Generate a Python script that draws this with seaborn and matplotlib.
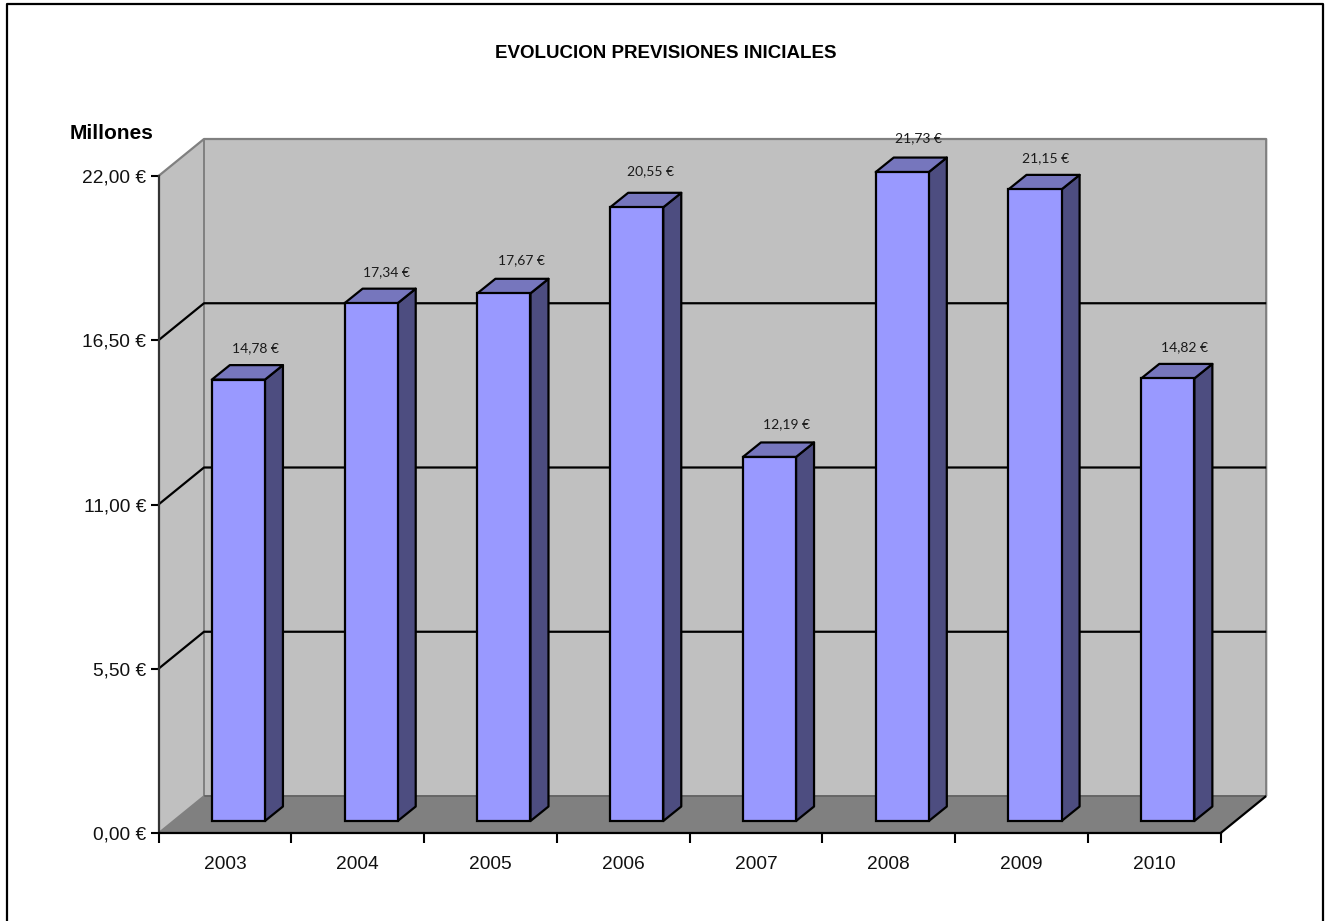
import matplotlib
matplotlib.use('Agg')
import matplotlib.pyplot as plt
from matplotlib.patches import Polygon
from matplotlib.transforms import Affine2D
import seaborn as sns
import pandas as pd

# Datos
anios = ['2003', '2004', '2005', '2006', '2007', '2008', '2009', '2010']
previsiones = [14.78, 17.34, 17.67, 20.55, 12.19, 21.73, 21.15, 14.82]
etiquetas = ['14,78 €', '17,34 €', '17,67 €', '20,55 €', '12,19 €', '21,73 €', '21,15 €', '14,82 €']
ticks_y = [0, 5.5, 11, 16.5, 22]
ticks_y_txt = ['0,00 €', '5,50 €', '11,00 €', '16,50 €', '22,00 €']

W, H = 1329, 921
LEFT, RIGHT, BOTTOM, TOP = 158.5, 1220.7, 833.0, 176.0
PX = (RIGHT - LEFT) / 8     # px por categoria
PY = (BOTTOM - TOP) / 22    # px por unidad

sns.set_theme(style='white')
plt.rcParams['font.family'] = ['Liberation Sans', 'DejaVu Sans']

df = pd.DataFrame({'anio': anios, 'valor': previsiones})

fig = plt.figure(figsize=(W / 100, H / 100), dpi=100, facecolor='white')
ax = fig.add_axes([LEFT / W, 1 - BOTTOM / H, (RIGHT - LEFT) / W, (BOTTOM - TOP) / H])
ax.set_facecolor('none')

sns.barplot(data=df, x='anio', y='valor', color='#9999ff', saturation=1, width=0.4,
            edgecolor='black', linewidth=1.6, ax=ax, zorder=5)
ax.set_xlim(-0.5, 7.5)
ax.set_ylim(0, 22)
barras = list(ax.patches)

# profundidad de las paredes y de las barras, en unidades de datos
wx, wy = 45.5 / PX, 37 / PY
ox, oy = 13.5 / PX, 12.0 / PY
bx, by = 18 / PX, 14.5 / PY


def poly(pts, fc, ec='none', lw=0, z=1):
    ax.add_patch(Polygon(pts, closed=True, facecolor=fc, edgecolor=ec, linewidth=lw,
                         zorder=z, clip_on=False, joinstyle='round'))


def line(xs, ys, color, lw=1.5, z=2):
    ax.plot(xs, ys, color=color, lw=lw, zorder=z, clip_on=False, solid_capstyle='butt')


x0, x1 = -0.5, 7.5
# paredes y suelo
poly([(x0, 0), (x0 + wx, wy), (x0 + wx, 22 + wy), (x0, 22)], '#c0c0c0')
poly([(x0 + wx, wy), (x1 + wx, wy), (x1 + wx, 22 + wy), (x0 + wx, 22 + wy)], '#c0c0c0')
poly([(x0, 0), (x1, 0), (x1 + wx, wy), (x0 + wx, wy)], '#808080')

line([x0, x0 + wx, x1 + wx, x1 + wx], [22, 22 + wy, 22 + wy, wy], '#808080', 1.6)
line([x0 + wx, x0 + wx], [wy, 22 + wy], '#808080', 1.4)
line([x0 + wx, x1 + wx], [wy, wy], '#666666', 1.4)
line([x0, x0 + wx], [0, wy], '#808080', 1.2)
line([x1, x1 + wx], [0, wy], 'black', 1.6, 3)

# lineas de division
for t in ticks_y[1:-1]:
    line([x0, x0 + wx, x1 + wx], [t, t + wy, t + wy], 'black', 1.6)

# barras con caras de profundidad
desplaza = Affine2D().translate(13.5, 12.0)
etq_x = [17.5, 15, 17, 14, 17, 16, 11, 17]
etq_y = [31, 31, 33, 36, 33, 34, 31, 31]
for i, bar in enumerate(barras):
    bar.set_clip_on(False)
    bar.set_transform(ax.transData + desplaza)
    xa = bar.get_x() + ox
    xb = xa + bar.get_width()
    v0 = oy
    v1 = bar.get_height() + oy
    poly([(xb, v0), (xb + bx, v0 + by), (xb + bx, v1 + by), (xb, v1)], '#4d4d80', 'black', 1.6, 4)
    poly([(xa, v1), (xb, v1), (xb + bx, v1 + by), (xa + bx, v1 + by)], '#7676bd', 'black', 1.6, 4)
    ax.annotate(etiquetas[i], xy=((xa + xb) / 2, v1), xytext=(etq_x[i], etq_y[i]), textcoords='offset pixels',
                ha='center', va='center', fontsize=10, family=['Lato', 'DejaVu Sans'],
                color='#1a1a1a', annotation_clip=False, zorder=6)

# ejes
for lado in ['top', 'right']:
    ax.spines[lado].set_visible(False)
for lado in ['left', 'bottom']:
    ax.spines[lado].set_color('black')
    ax.spines[lado].set_linewidth(1.6)
    ax.spines[lado].set_zorder(6)
ax.spines['left'].set_color('#333333')

ax.set_yticks(ticks_y)
ax.set_yticklabels(ticks_y_txt, fontsize=13.8, color='#111111')
ax.set_xticks([i - 0.5 for i in range(9)], minor=True)
ax.tick_params(axis='x', which='major', length=0, pad=16.5, labelsize=13.8, labelcolor='#111111')
ax.tick_params(axis='x', which='minor', length=7.5, width=1.5, color='black', bottom=True)
ax.tick_params(axis='y', length=6, width=1.5, color='black', pad=3, left=True)
ax.set_xlabel('')
ax.set_ylabel('')

fig.text(665.5 / W, 1 - 53 / H, 'EVOLUCION PREVISIONES INICIALES', ha='center', va='center',
         fontsize=13.5, fontweight='bold', color='black')
fig.text(111.5 / W, 1 - 133 / H, 'Millones', ha='center', va='center',
         fontsize=15, fontweight='bold', color='black')

# marco exterior (sin borde inferior visible)
fig.add_artist(plt.Line2D([6.5 / W, 6.5 / W, 1322.5 / W, 1322.5 / W], [0, 1 - 4.5 / H, 1 - 4.5 / H, 0],
                          color='black', lw=1.6))

fig.savefig('out.png', dpi=100)
